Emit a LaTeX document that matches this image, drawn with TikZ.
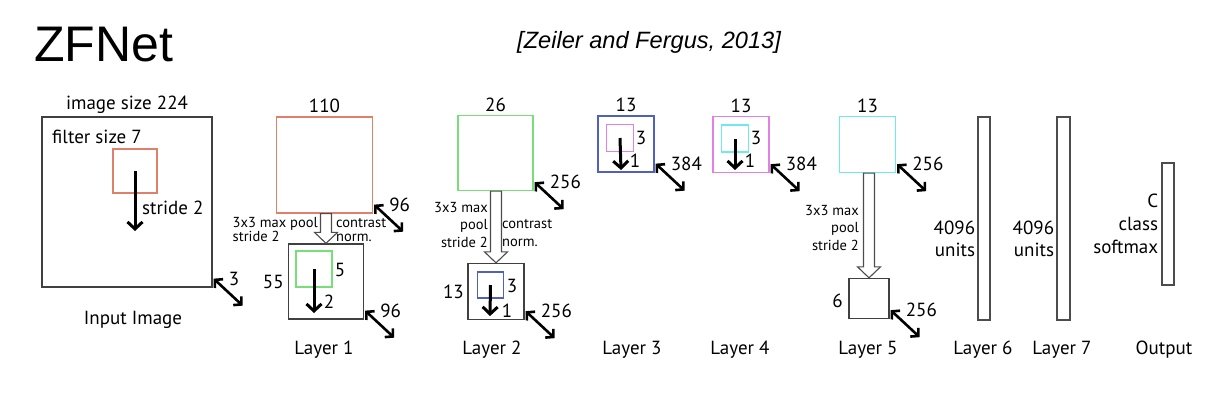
\documentclass[tikz,border=0pt]{standalone}
\usepackage{fontspec}
\setmainfont{PT Sans}
\newfontfamily\arialfont{Liberation Sans}
\usetikzlibrary{arrows.meta, positioning, calc}
\definecolor{mapred}{RGB}{222,128,106}
\definecolor{mapgreen}{RGB}{120,222,120}
\definecolor{mapblue}{RGB}{80,96,190}
\definecolor{mapmagenta}{RGB}{226,128,232}
\definecolor{mapcyan}{RGB}{110,234,234}
\tikzset{
    x=1pt, y=-1pt,
    % Maps
    fmap/.style={rectangle, draw=black!75, line width=1.3pt, inner sep=0pt, minimum size=#1pt},
    kern/.style={rectangle, line width=1.2pt, inner sep=0pt, minimum size=#1pt},
    bar/.style 2 args={rectangle, draw=black!70, line width=1.3pt, inner sep=0pt,
                       minimum width=#1pt, minimum height=#2pt},
    % Arrows
    stride/.style={line width=3pt, -{Straight Barb[length=7pt,width=15pt]}},
    depth/.style={line width=2.6pt, {Straight Barb[length=5.5pt,width=12pt]}-{Straight Barb[length=5.5pt,width=12pt]}},
    pool/.style={draw=black!70, fill=white, line width=1.1pt, line join=miter},
    % Labels
    lbl/.style={inner sep=1pt, font=\fontsize{19}{21}\selectfont},
    note/.style={inner sep=1pt, font=\fontsize{14.5}{14}\selectfont},
    notewide/.style={inner sep=1pt, font=\fontsize{14.5}{17.5}\selectfont}
}
\begin{document}
\begin{tikzpicture}[node distance=2pt]
\useasboundingbox (0,0) rectangle (1223,400);

\node[inner sep=0pt, anchor=base west, font=\arialfont\fontsize{50}{50}\selectfont] (title) at (34,61) {ZFNet};
\node[inner sep=0pt, anchor=base west, font=\arialfont\itshape\fontsize{23.6}{24}\selectfont] (cite) at (517,48) {[Zeiler and Fergus, 2013]};

% Input image
\node[fmap=170] (input) at (127,202) {};
\node[lbl, above=of input] {image size 224};
\node[lbl, anchor=west] at (51,137) {filter size 7};
\node[kern=44, draw=mapred] (k0) at (135,171) {};
\coordinate (k0end) at (135,231);
\draw[stride] (k0.center) -- (k0end);
\node[lbl, anchor=west] at (141,208) {stride 2};
\node[lbl] at (133,320) {Input Image};

% Layer 1
\node[fmap=96, draw=mapred] (l1a) at (324.5,165) {};
\node[lbl, above=of l1a] {110};
\node[fmap=75] (l1b) at (326,281.5) {};
\node[kern=36, draw=mapgreen] (k1) at (314,269) {};
\coordinate (k1end) at (314,313);
\draw[stride] (k1.center) -- (k1end);
\node[lbl] at (340,270) {5};
\node[lbl] at (329,302) {2};
\node[lbl, left=3pt of l1b] {55};
\node[note, align=left, anchor=east] at (319,230) {3x3 max pool\\stride 2};
\node[note, align=left, anchor=west] at (335,230) {contrast\\norm.};
\node[lbl] at (324,350) {Layer 1};

% Layer 2
\node[fmap=75, draw=mapgreen] (l2a) at (495.5,153) {};
\node[lbl, above=of l2a] {26};
\node[fmap=56] (l2b) at (496,291.5) {};
\node[kern=26, draw=mapblue] (k2) at (490.5,285) {};
\coordinate (k2end) at (490,316);
\draw[stride] (k2.center) -- (k2end);
\node[lbl] at (512,286) {3};
\node[lbl] at (507,311) {1};
\node[lbl, anchor=east] at (465,292) {13};
\node[notewide, align=right, anchor=east] at (489,225) {3x3 max\\pool\\stride 2};
\node[notewide, align=left, anchor=west] at (501,233) {contrast\\norm.};
\node[lbl] at (492,350) {Layer 2};

% Layer 3
\node[fmap=56, draw=mapblue] (l3) at (626,144) {};
\node[lbl, above=of l3] {13};
\node[kern=27, draw=mapmagenta] (k3) at (620,138) {};
\coordinate (k3end) at (621,170);
\draw[stride] (k3.center) -- (k3end);
\node[lbl] at (641,138) {3};
\node[lbl] at (635,161) {1};
\node[lbl] at (632,350) {Layer 3};

% Layer 4
\node[fmap=56, draw=mapmagenta] (l4) at (741,144.5) {};
\node[lbl, above=of l4] {13};
\node[kern=27, draw=mapcyan] (k4) at (735,138.5) {};
\coordinate (k4end) at (735,170);
\draw[stride] (k4.center) -- (k4end);
\node[lbl] at (756,138) {3};
\node[lbl] at (750,161) {1};
\node[lbl] at (740,350) {Layer 4};

% Layer 5
\node[fmap=56, draw=mapcyan] (l5a) at (867.5,144.5) {};
\node[lbl, above=of l5a] {13};
\node[fmap=40] (l5b) at (869,298.5) {};
\node[lbl, anchor=east] at (844,301) {6};
\node[notewide, align=right, anchor=east] at (860,228) {3x3 max\\pool\\stride 2};
\node[lbl] at (868,350) {Layer 5};

% Fully connected
\node[bar={12}{203}] (l6) at (984,218.5) {};
\node[lbl, align=right, left=1pt of l6, yshift=-20pt, font=\fontsize{19}{22}\selectfont] {4096\\units};
\node[lbl] at (983,350) {Layer 6};
\node[bar={13}{203}] (l7) at (1063.5,218.5) {};
\node[lbl, align=right, left=1pt of l7, yshift=-20pt, font=\fontsize{19}{22}\selectfont] {4096\\units};
\node[lbl] at (1062,350) {Layer 7};
\node[bar={12}{122}] (out) at (1168,224) {};
\node[lbl, align=right, left=2pt of out, font=\fontsize{19}{23}\selectfont] {C\\class\\softmax};
\node[lbl] at (1164,350) {Output};

% Pooling arrows
\foreach \a/\b in {l1a/l1b, l2a/l2b, l5a/l5b}
    \draw[pool] ($(\a.south -| \b.north)+(-5.5,0)$) -- ($(\b.north)+(-5.5,-11)$)
        -- ($(\b.north)+(-11.5,-11)$) -- (\b.north) -- ($(\b.north)+(11.5,-11)$)
        -- ($(\b.north)+(5.5,-11)$) -- ($(\a.south -| \b.north)+(5.5,0)$) -- cycle;

% Depth arrows
\foreach \m/\d in {input/3, l1a/96, l1b/96, l2a/256, l2b/256, l3/384, l4/384, l5a/256, l5b/256} {
    \draw[depth] ($(\m.south east)+(1,-9)$) -- ($(\m.south east)+(30,18)$);
    \node[lbl, anchor=west] at ($(\m.south east)+(15,-9)$) {\d};
}

\end{tikzpicture}
\end{document}
